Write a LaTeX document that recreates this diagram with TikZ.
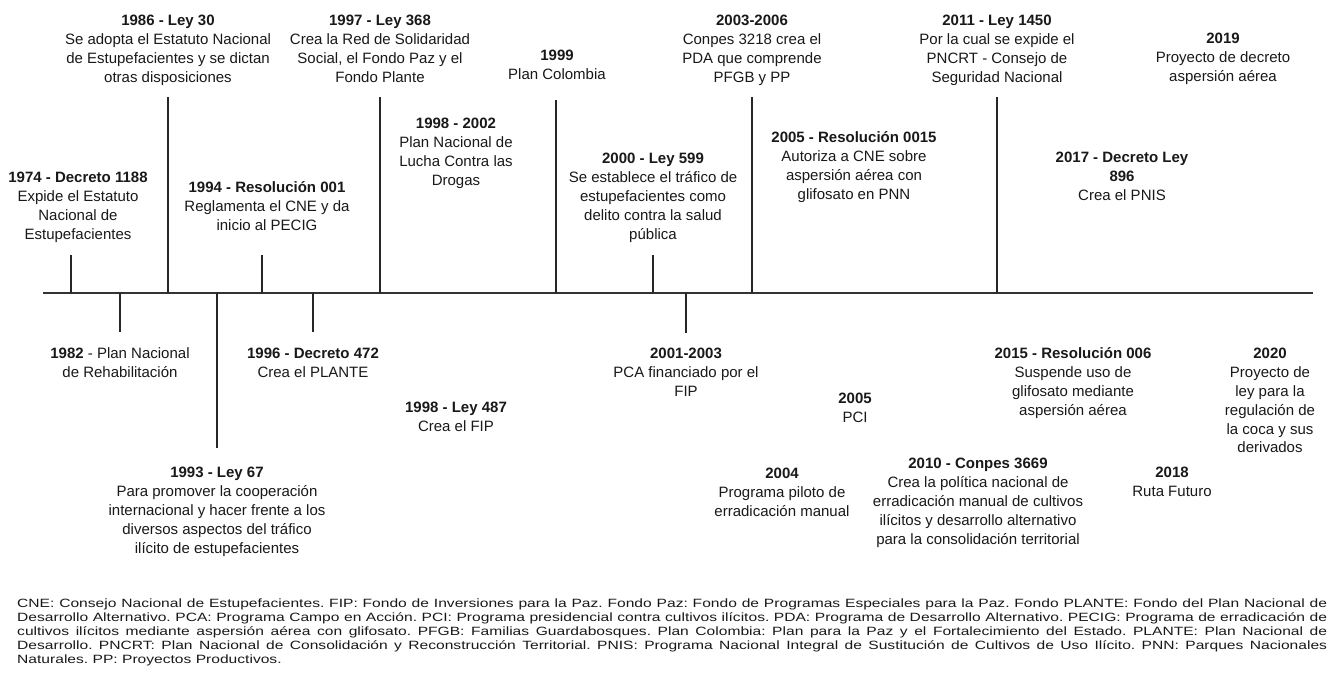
\documentclass[tikz,border=0pt]{standalone}
\usepackage{fontspec}
\setmainfont{Liberation Sans}
\newfontfamily\footfont[FakeStretch=1.3]{Liberation Sans}
\begin{document}
\begin{tikzpicture}[x=1pt,y=-1pt,
  ev/.style={align=center, anchor=north, inner sep=0pt, text=black!90,
    font=\fontsize{15}{18.9}\selectfont},
  tick/.style={line width=2pt, draw=black!85},
  axis/.style={line width=2.6pt, draw=black!80}]
\useasboundingbox[fill=white] (0,0) rectangle (1330,688);

% axis
\coordinate (axL) at (43,293);
\coordinate (axR) at (1313,293);
\draw[axis] (axL) -- (axR);

% tick coordinates on axis and free ends
\coordinate (a1974) at (71,293);  \coordinate (e1974) at (71,255);
\coordinate (a1986) at (168,293); \coordinate (e1986) at (168,97);
\coordinate (a1994) at (262,293); \coordinate (e1994) at (262,255);
\coordinate (a1997) at (380,293); \coordinate (e1997) at (380,97);
\coordinate (a1999) at (556,293); \coordinate (e1999) at (556,100);
\coordinate (a2000) at (653,293); \coordinate (e2000) at (653,255);
\coordinate (a2003) at (752,293); \coordinate (e2003) at (752,97);
\coordinate (a2011) at (997,293); \coordinate (e2011) at (997,97);
\coordinate (a1982) at (120,293); \coordinate (e1982) at (120,332);
\coordinate (a1993) at (217,293); \coordinate (e1993) at (217,448);
\coordinate (a1996) at (313,293); \coordinate (e1996) at (313,332);
\coordinate (a2001) at (686,293); \coordinate (e2001) at (686,333);

\foreach \t in {1974,1986,1994,1997,1999,2000,2003,2011,1982,1993,1996,2001}
  \draw[tick] (a\t) -- (e\t);

% top row
\node[ev] (n1986) at (168,12) {\strut\textbf{1986 - Ley 30}\\Se adopta el Estatuto Nacional\\de Estupefacientes y se dictan\\otras disposiciones};
\node[ev] (n1997) at (380,12) {\strut\textbf{1997 - Ley 368}\\Crea la Red de Solidaridad\\Social, el Fondo Paz y el\\Fondo Plante};
\node[ev] (n1999) at (557,47) {\strut\textbf{1999}\\Plan Colombia};
\node[ev] (n2003) at (752,12) {\strut\textbf{2003-2006}\\Conpes 3218 crea el\\PDA que comprende\\PFGB y PP};
\node[ev] (n2011) at (997,12) {\strut\textbf{2011 - Ley 1450}\\Por la cual se expide el\\PNCRT - Consejo de\\Seguridad Nacional};
\node[ev] (n2019) at (1223,30) {\strut\textbf{2019}\\Proyecto de decreto\\aspersión aérea};

% second row above axis
\node[ev] (n1974) at (78,169) {\strut\textbf{1974 - Decreto 1188}\\Expide el Estatuto\\Nacional de\\Estupefacientes};
\node[ev] (n1994) at (267,179) {\strut\textbf{1994 - Resolución 001}\\Reglamenta el CNE y da\\inicio al PECIG};
\node[ev] (n1998a) at (456,115) {\strut\textbf{1998 - 2002}\\Plan Nacional de\\Lucha Contra las\\Drogas};
\node[ev] (n2000) at (653,150) {\strut\textbf{2000 - Ley 599}\\Se establece el tráfico de\\estupefacientes como\\delito contra la salud\\pública};
\node[ev] (n2005r) at (854,129) {\strut\textbf{2005 - Resolución 0015}\\Autoriza a CNE sobre\\aspersión aérea con\\glifosato en PNN};
\node[ev] (n2017) at (1122,149) {\strut\textbf{2017 - Decreto Ley}\\\textbf{896}\\Crea el PNIS};

% below axis
\node[ev] (n1982) at (120,345) {\strut\textbf{1982} - Plan Nacional\\de Rehabilitación};
\node[ev] (n1996) at (313,345) {\strut\textbf{1996 - Decreto 472}\\Crea el PLANTE};
\node[ev] (n1998b) at (456,399) {\strut\textbf{1998 - Ley 487}\\Crea el FIP};
\node[ev] (n1993) at (217,464) {\strut\textbf{1993 - Ley 67}\\Para promover la cooperación\\internacional y hacer frente a los\\diversos aspectos del tráfico\\ilícito de estupefacientes};
\node[ev] (n2001) at (686,345) {\strut\textbf{2001-2003}\\PCA financiado por el\\FIP};
\node[ev] (n2005) at (855,390) {\strut\textbf{2005}\\PCI};
\node[ev] (n2004) at (782,465) {\strut\textbf{2004}\\Programa piloto de\\erradicación manual};
\node[ev] (n2015) at (1073,345) {\strut\textbf{2015 - Resolución 006}\\Suspende uso de\\glifosato mediante\\aspersión aérea};
\node[ev] (n2020) at (1270,345) {\strut\textbf{2020}\\Proyecto de\\ley para la\\regulación de\\la coca y sus\\derivados};
\node[ev] (n2010) at (978,455) {\strut\textbf{2010 - Conpes 3669}\\Crea la política nacional de\\erradicación manual de cultivos\\ilícitos y desarrollo alternativo\\para la consolidación territorial};
\node[ev] (n2018) at (1172,464) {\strut\textbf{2018}\\Ruta Futuro};

% footnote
\node[anchor=north west, inner sep=0pt, align=left, text=black!90,
  font=\footfont\fontsize{12}{14}\selectfont\frenchspacing] (foot) at (17,597) {%
\strut\makebox[1310pt][s]{CNE: Consejo Nacional de Estupefacientes. FIP: Fondo de Inversiones para la Paz. Fondo Paz: Fondo de Programas Especiales para la Paz. Fondo PLANTE: Fondo del Plan Nacional de}\\
\makebox[1310pt][s]{Desarrollo Alternativo. PCA: Programa Campo en Acción. PCI: Programa presidencial contra cultivos ilícitos. PDA: Programa de Desarrollo Alternativo. PECIG: Programa de erradicación de}\\
\makebox[1310pt][s]{cultivos ilícitos mediante aspersión aérea con glifosato. PFGB: Familias Guardabosques. Plan Colombia: Plan para la Paz y el Fortalecimiento del Estado. PLANTE: Plan Nacional de}\\
\makebox[1310pt][s]{Desarrollo. PNCRT: Plan Nacional de Consolidación y Reconstrucción Territorial. PNIS: Programa Nacional Integral de Sustitución de Cultivos de Uso Ilícito. PNN: Parques Nacionales}\\
Naturales. PP: Proyectos Productivos.};
\end{tikzpicture}
\end{document}
